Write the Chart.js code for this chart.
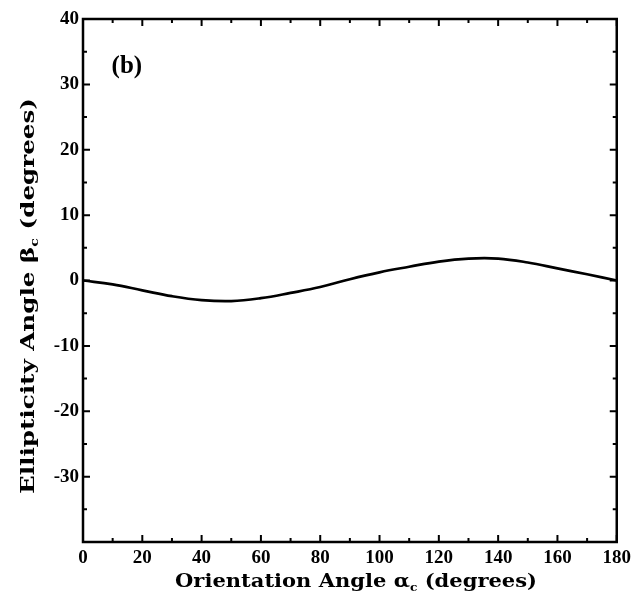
<!DOCTYPE html>
<html>
<head>
<meta charset="utf-8">
<script src="https://cdn.jsdelivr.net/npm/chart.js@4.4.1/dist/chart.umd.min.js"></script>
<style>
  html, body { margin: 0; padding: 0; background: #fff; }
  #wrap { width: 636px; height: 602px; position: relative; }
</style>
</head>
<body>
<div id="wrap"><canvas id="c" width="636" height="602"></canvas></div>
<script>
// orientation angle alpha_c (deg) and ellipticity angle beta_c (deg)
const alphaDeg = [0, 10, 20, 30, 40, 50, 60, 70, 80, 90, 100, 110, 120, 130, 140, 150, 160, 170, 180]
const betaDeg = [0, -0.6, -1.5, -2.4, -3.0, -3.15, -2.7, -1.9, -1.0, 0.2, 1.25, 2.1, 2.9, 3.35, 3.35, 2.75, 1.85, 0.95, 0]

const xMajor = [0, 20, 40, 60, 80, 100, 120, 140, 160, 180]
const xMinor = [10, 30, 50, 70, 90, 110, 130, 150, 170]
const yMajor = [-40, -30, -20, -10, 0, 10, 20, 30, 40]
const yMinor = [-35, -25, -15, -5, 5, 15, 25, 35]

const panelLabel = "(b)"
const tickFont = { family: "'Liberation Serif', 'DejaVu Serif', serif", size: 19, weight: "bold" }
const titleFont = "bold 19px 'DejaVu Serif', 'Liberation Serif', serif"
const subFont = "bold 11px 'DejaVu Serif', 'Liberation Serif', serif"

// draw "text, subscript, text" pieces centred at 0,0, stretched to a given length
function drawPieces(ctx, pieces, length) {
  let total = 0
  pieces.forEach(p => { ctx.font = p.sub ? subFont : titleFont; p.w = ctx.measureText(p.t).width; total += p.w })
  ctx.scale(length / total, 1)
  let x = -total / 2
  pieces.forEach(p => {
    ctx.font = p.sub ? subFont : titleFont
    ctx.fillText(p.t, x, p.sub ? 6 : 0)
    x += p.w
  })
}

const frame = {
  id: "frame",
  afterDraw(chart) {
    const { ctx, chartArea: a, scales } = chart
    const sx = scales.x, sy = scales.y
    ctx.save()
    ctx.strokeStyle = "#000"
    ctx.lineWidth = 2.5
    ctx.strokeRect(a.left, a.top, a.right - a.left, a.bottom - a.top)
    ctx.lineWidth = 2
    ctx.beginPath()
    const xt = (vals, len) => vals.forEach(v => {
      const px = sx.getPixelForValue(v)
      ctx.moveTo(px, a.bottom); ctx.lineTo(px, a.bottom - len)
      ctx.moveTo(px, a.top); ctx.lineTo(px, a.top + len)
    })
    const yt = (vals, len) => vals.forEach(v => {
      const py = sy.getPixelForValue(v)
      ctx.moveTo(a.left, py); ctx.lineTo(a.left + len, py)
      ctx.moveTo(a.right, py); ctx.lineTo(a.right - len, py)
    })
    xt(xMajor, 7); xt(xMinor, 4); yt(yMajor, 7); yt(yMinor, 4)
    ctx.stroke()

    ctx.fillStyle = "#000"
    ctx.textBaseline = "middle"
    ctx.textAlign = "left"
    ctx.save()
    ctx.translate(356, 582)
    drawPieces(ctx, [{ t: "Orientation Angle α" }, { t: "c", sub: true }, { t: " (degrees)" }], 362)
    ctx.restore()
    ctx.save()
    ctx.translate(29, 296)
    ctx.rotate(-Math.PI / 2)
    drawPieces(ctx, [{ t: "Ellipticity Angle β" }, { t: "c", sub: true }, { t: " (degrees)" }], 396)
    ctx.restore()

    ctx.font = "bold 25px 'Liberation Serif', 'DejaVu Serif', serif"
    ctx.textAlign = "center"
    ctx.fillText(panelLabel, sx.getPixelForValue(14.8), sy.getPixelForValue(32.8))
    ctx.restore()
  }
}

new Chart(document.getElementById("c"), {
  type: "line",
  data: {
    datasets: [{
      data: alphaDeg.map((a, i) => ({ x: a, y: betaDeg[i] })),
      borderColor: "#000",
      borderWidth: 2.7,
      pointRadius: 0,
      tension: 0.4,
      fill: false
    }]
  },
  options: {
    responsive: false,
    animation: false,
    layout: { padding: { left: 0, right: 19, top: 19, bottom: 0 } },
    plugins: { legend: { display: false }, tooltip: { enabled: false } },
    scales: {
      x: {
        type: "linear", min: 0, max: 180,
        afterBuildTicks(s) { s.ticks = xMajor.map(v => ({ value: v })) },
        afterFit(s) { s.height = 60 },
        grid: { display: false, drawTicks: false },
        border: { display: false },
        ticks: { color: "#000", font: tickFont, padding: 5, maxRotation: 0 }
      },
      y: {
        type: "linear", min: -40, max: 40,
        afterBuildTicks(s) { s.ticks = yMajor.map(v => ({ value: v })) },
        afterFit(s) { s.width = 83 },
        grid: { display: false, drawTicks: false },
        border: { display: false },
        ticks: { color: "#000", font: tickFont, padding: 4, callback: v => v === -40 ? "" : v }
      }
    }
  },
  plugins: [frame]
})
</script>
</body>
</html>
